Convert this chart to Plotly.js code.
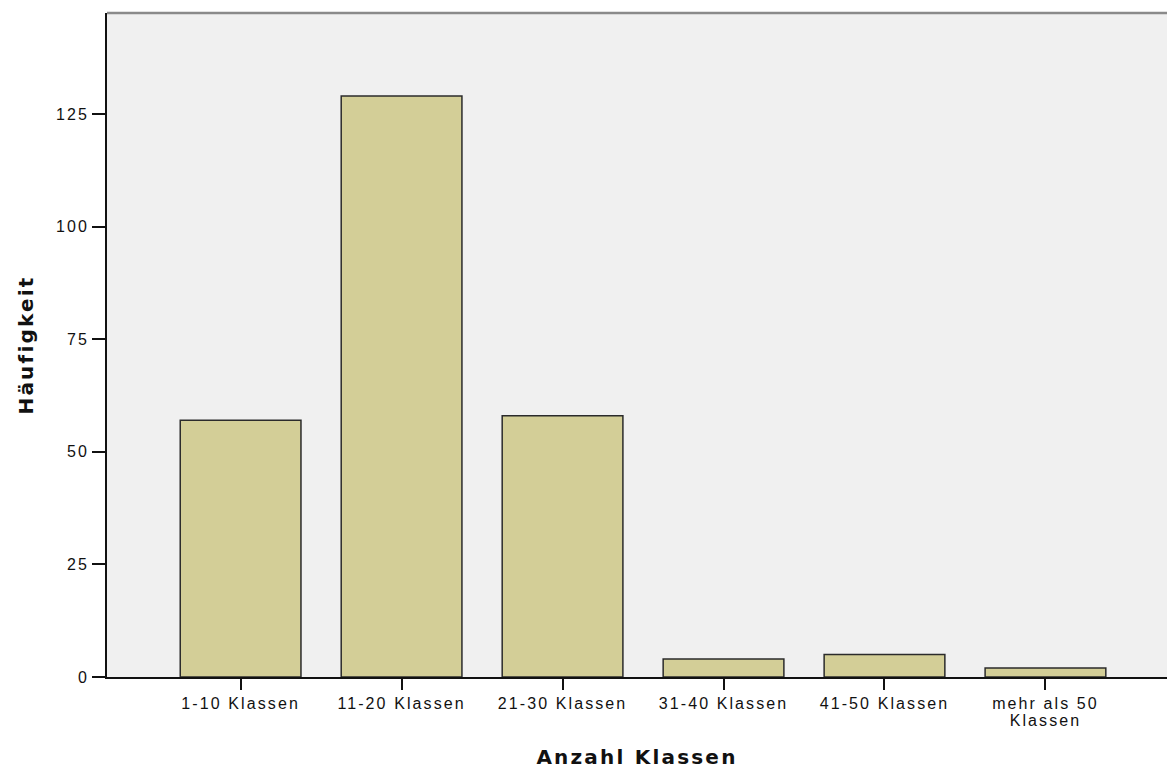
<!DOCTYPE html>
<html>
<head>
<meta charset="utf-8">
<script src="https://cdn.plot.ly/plotly-3.0.1.min.js"></script>
<style>
  html, body { margin: 0; padding: 0; background: #fff; }
  #chart { width: 1167px; height: 769px; }
  .xtick text, .ytick text { letter-spacing: 2.1px; }
  .g-xtitle text, .g-ytitle text { letter-spacing: 2.2px; }
</style>
</head>
<body>
<div id="chart"></div>
<script>
const categories = ["1-10 Klassen", "11-20 Klassen", "21-30 Klassen", "31-40 Klassen", "41-50 Klassen", "mehr als 50<br>Klassen"];
const frequencies = [57, 129, 58, 4, 5, 2];
const yTickValues = [0, 25, 50, 75, 100, 125];

const trace = {
  type: "bar",
  x: categories,
  y: frequencies,
  marker: { color: "#D3CE97", line: { color: "#2b2b2b", width: 1.5 } },
  hoverinfo: "x+y"
};

const layout = {
  width: 1167,
  height: 769,
  margin: { l: 107, r: 0, t: 13, b: 92, pad: 0 },
  paper_bgcolor: "#ffffff",
  plot_bgcolor: "#F0F0F0",
  bargap: 0.25,
  showlegend: false,
  font: { family: "Liberation Sans, Arial, sans-serif", size: 16, color: "#111" },
  xaxis: {
    type: "category",
    range: [-0.83, 5.755],
    showgrid: false,
    zeroline: false,
    showline: true,
    linecolor: "#111",
    linewidth: 1.5,
    ticks: "outside",
    ticklen: 11,
    tickwidth: 1.5,
    tickcolor: "#111",
    tickfont: { size: 16 },
    title: { text: "Anzahl Klassen", font: { family: "DejaVu Sans, sans-serif", size: 20, color: "#111", weight: "bold" }, standoff: 20 },
    automargin: false
  },
  yaxis: {
    range: [0, 147.4],
    tickvals: yTickValues,
    ticktext: yTickValues.map(String),
    showgrid: false,
    zeroline: false,
    showline: true,
    linecolor: "#111",
    linewidth: 1.5,
    ticks: "outside",
    ticklen: 13,
    tickwidth: 1.5,
    tickcolor: "#111",
    tickfont: { size: 16 },
    title: { text: "Häufigkeit", font: { family: "DejaVu Sans, sans-serif", size: 20, color: "#111", weight: "bold" }, standoff: 17 },
    automargin: false
  },
  shapes: [
    { type: "line", xref: "paper", yref: "paper", x0: 0, x1: 1, y0: 1, y1: 1, line: { color: "#8a8a8a", width: 2.5 } }
  ]
};

function tightenTickLines() {
  document.querySelectorAll("#chart .xtick text tspan.line").forEach(function (t) {
    if (t.getAttribute("dy") && t.getAttribute("dy") !== "0em") t.setAttribute("dy", "1.08em");
  });
}

Plotly.newPlot("chart", [trace], layout, { displayModeBar: false, responsive: false }).then(function (gd) {
  tightenTickLines();
  gd.on("plotly_afterplot", tightenTickLines);
});
</script>
</body>
</html>
